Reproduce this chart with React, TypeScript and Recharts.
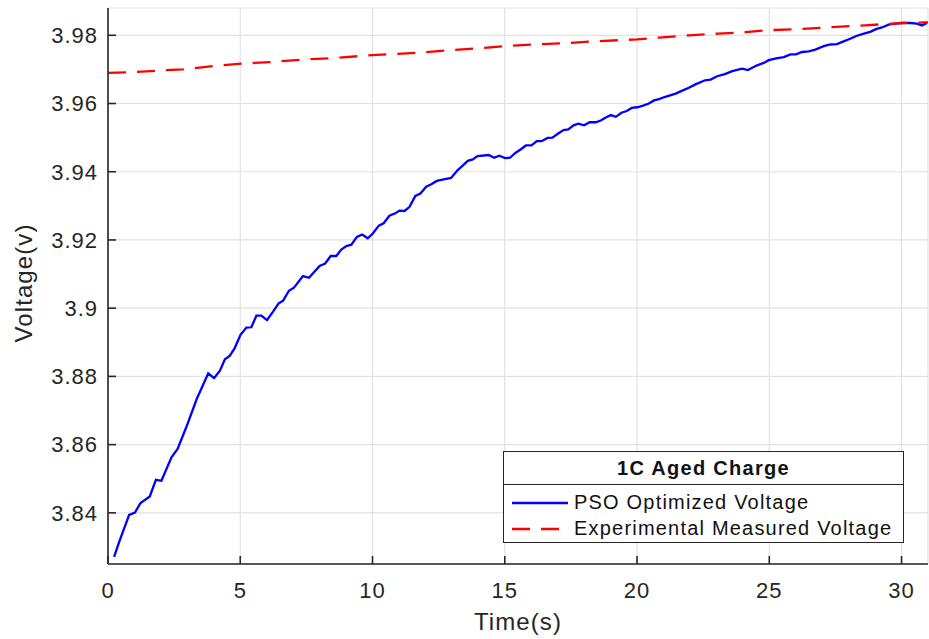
import React from "react";
import { LineChart, Line, XAxis, YAxis, CartesianGrid, Label } from "recharts";

// PSO optimized voltage (blue)
const psoTime = [
  0.23, 0.43, 0.8, 1.02, 1.23, 1.58, 1.81, 2.02, 2.4, 2.63, 2.97, 3.35, 3.79, 4.01, 4.23, 4.42, 4.6, 4.79,
  5.01, 5.23, 5.42, 5.61, 5.8, 6.01, 6.24, 6.45, 6.62, 6.84, 7.03, 7.37, 7.6, 8.0, 8.21, 8.42, 8.63, 8.82,
  9.01, 9.2, 9.41, 9.61, 9.82, 10.01, 10.24, 10.42, 10.64, 10.86, 11.02, 11.21, 11.4, 11.62, 11.81, 12.03,
  12.22, 12.43, 12.65, 12.97, 13.22, 13.41, 13.6, 13.79, 13.97, 14.39, 14.6, 14.79, 15.01, 15.2, 15.4, 15.61,
  15.8, 16.01, 16.21, 16.4, 16.62, 16.8, 17.02, 17.22, 17.4, 17.6, 17.78, 18.0, 18.21, 18.44, 18.63, 18.82,
  19.01, 19.2, 19.41, 19.61, 19.8, 20.01, 20.23, 20.45, 20.64, 20.83, 21.04, 21.25, 21.46, 21.69, 21.96,
  22.21, 22.57, 22.78, 23.03, 23.32, 23.6, 23.97, 24.19, 24.54, 24.79, 24.98, 25.26, 25.55, 25.8, 26.01,
  26.24, 26.49, 26.74, 27.06, 27.31, 27.56, 27.81, 28.06, 28.29, 28.57, 28.82, 29.03, 29.26, 29.51, 29.76,
  30.01, 30.33, 30.58, 30.77, 30.96,
];
const psoVolt = [
  3.8271, 3.8316, 3.8394, 3.8401, 3.8429, 3.8448, 3.8497, 3.8494, 3.8563, 3.8587, 3.8653, 3.8733, 3.8809,
  3.8795, 3.8817, 3.885, 3.886, 3.8883, 3.8922, 3.8943, 3.8944, 3.8978, 3.8978, 3.8965, 3.899, 3.9014,
  3.9022, 3.9051, 3.906, 3.9094, 3.9089, 3.9124, 3.9131, 3.9153, 3.9153, 3.9172, 3.9182, 3.9186, 3.9209,
  3.9216, 3.9205, 3.9219, 3.9242, 3.9249, 3.9271, 3.9278, 3.9286, 3.9285, 3.9297, 3.9329, 3.9336, 3.9356,
  3.9363, 3.9373, 3.9377, 3.9382, 3.9405, 3.9418, 3.9432, 3.9436, 3.9446, 3.9449, 3.9441, 3.9447, 3.944,
  3.9441, 3.9455, 3.9466, 3.9477, 3.9477, 3.949, 3.949, 3.9499, 3.95, 3.9512, 3.9522, 3.9524, 3.9536,
  3.9541, 3.9536, 3.9545, 3.9545, 3.955, 3.9559, 3.9566, 3.9561, 3.9573, 3.9578, 3.9587, 3.9589, 3.9594,
  3.96, 3.9609, 3.9613, 3.9619, 3.9624, 3.9629, 3.9637, 3.9646, 3.9656, 3.9668, 3.967, 3.968, 3.9686,
  3.9695, 3.9702, 3.9698, 3.9712, 3.9719, 3.9727, 3.9732, 3.9736, 3.9744, 3.9744, 3.9751, 3.9753, 3.9758,
  3.9768, 3.9773, 3.9774, 3.9782, 3.979, 3.9798, 3.9805, 3.981, 3.9818, 3.9823, 3.9831, 3.9834, 3.9836,
  3.9836, 3.9834, 3.9829, 3.9836,
];

// experimental measured voltage (red dashed)
const expTime = [
  0, 1, 2, 2.84, 3.97, 5.04, 6.24, 7.37, 8.5, 10.01, 11.77, 12.91, 14.04, 14.98, 16.05, 17.31, 18.57,
  20.01, 20.83, 21.96, 23.09, 24.1, 24.98, 26.11, 27.37, 28.63, 29.38, 30.01, 30.89, 31,
];
const expVolt = [
  3.969, 3.9692, 3.9697, 3.97, 3.971, 3.9717, 3.9722, 3.9729, 3.9733, 3.9742, 3.9749, 3.9756, 3.9762,
  3.9768, 3.9773, 3.9777, 3.9783, 3.9788, 3.9793, 3.98, 3.9805, 3.9809, 3.9815, 3.9818, 3.9824, 3.9829,
  3.9833, 3.9836, 3.9838, 3.9838,
];

const xTicks = [0, 5, 10, 15, 20, 25, 30];
const yTicks = [3.84, 3.86, 3.88, 3.9, 3.92, 3.94, 3.96, 3.98];

const psoData = psoTime.map((t, i) => ({ t, v: psoVolt[i] }));
const expData = expTime.map((t, i) => ({ t, v: expVolt[i] }));

const axisColor = "#262626";
const font = "'Liberation Sans', Arial, sans-serif";
const tickStyle = { fontSize: 22, fill: axisColor, letterSpacing: 1, fontFamily: font };

const YLabel = ({ viewBox }: any) => {
  const x = 32;
  const y = viewBox.y + viewBox.height / 2 - 3;
  return (
    <text
      x={x}
      y={y}
      transform={`rotate(-90, ${x}, ${y})`}
      textAnchor="middle"
      fill={axisColor}
      fontSize={24}
      letterSpacing={1.1}
      fontFamily={font}
    >
      Voltage(v)
    </text>
  );
};

const ChartLegend = () => (
  <div
    style={{
      position: "absolute",
      left: 503,
      top: 451,
      width: 401,
      height: 92,
      boxSizing: "border-box",
      border: `1px solid ${axisColor}`,
      background: "#fff",
      fontFamily: font,
      color: "#111",
    }}
  >
    <div
      style={{
        height: 32,
        borderBottom: `1px solid ${axisColor}`,
        textAlign: "center",
        fontWeight: "bold",
        fontSize: 20,
        letterSpacing: 1.3,
        lineHeight: "33px",
      }}
    >
      1C Aged Charge
    </div>
    {[
      { name: "PSO Optimized Voltage", color: "#0000ff", dash: undefined },
      { name: "Experimental Measured Voltage", color: "#ff0000", dash: "18 11" },
    ].map((item) => (
      <div key={item.name} style={{ height: 27, display: "flex", alignItems: "center", marginTop: item.dash ? -1 : 4 }}>
        <svg width={70} height={10} style={{ flex: "none" }}>
          <line x1={8} y1={5} x2={64} y2={5} stroke={item.color} strokeWidth={2.3} strokeDasharray={item.dash} />
        </svg>
        <span style={{ fontSize: 20, letterSpacing: 1.2 }}>{item.name}</span>
      </div>
    ))}
  </div>
);

export default function App() {
  return (
    <div style={{ position: "absolute", left: 0, top: 0, width: 929, height: 639, background: "#fff" }}>
      <LineChart width={929} height={639} margin={{ top: 8, right: 1, bottom: 0, left: 0 }} style={{ fontFamily: font }}>
        <CartesianGrid xAxisId="b" yAxisId="l" stroke="#e2e2e2" strokeWidth={1.2} />
        <XAxis
          xAxisId="b"
          dataKey="t"
          type="number"
          domain={[0, 31]}
          ticks={xTicks}
          allowDataOverflow
          height={75}
          tickSize={-8}
          tickMargin={26}
          stroke={axisColor}
          strokeWidth={1.6}
          tick={tickStyle}
        >
          <Label
            value="Time(s)"
            position="insideBottom"
            offset={9}
            fill={axisColor}
            fontSize={24}
            letterSpacing={1.1}
            fontFamily={font}
          />
        </XAxis>
        <XAxis
          xAxisId="t"
          orientation="top"
          dataKey="t"
          type="number"
          domain={[0, 31]}
          ticks={xTicks}
          allowDataOverflow
          height={0}
          tickSize={-8}
          tick={false}
          stroke={axisColor}
          strokeWidth={1.6}
        />
        <YAxis
          yAxisId="l"
          type="number"
          domain={[3.825, 3.988]}
          ticks={yTicks}
          allowDataOverflow
          width={108}
          tickSize={-8}
          tickMargin={18}
          stroke={axisColor}
          strokeWidth={1.6}
          tick={tickStyle}
          label={<YLabel />}
        />
        <YAxis
          yAxisId="r"
          orientation="right"
          type="number"
          domain={[3.825, 3.988]}
          ticks={yTicks}
          allowDataOverflow
          width={0}
          tickSize={-8}
          tick={false}
          stroke={axisColor}
          strokeWidth={1.6}
        />
        <Line
          xAxisId="b"
          yAxisId="l"
          data={psoData}
          dataKey="v"
          type="linear"
          stroke="#0000ff"
          strokeWidth={2.3}
          dot={false}
          isAnimationActive={false}
        />
        <Line
          xAxisId="b"
          yAxisId="l"
          data={expData}
          dataKey="v"
          type="linear"
          stroke="#ff0000"
          strokeWidth={2.3}
          strokeDasharray="18 11"
          dot={false}
          isAnimationActive={false}
        />
      </LineChart>
      <ChartLegend />
    </div>
  );
}
